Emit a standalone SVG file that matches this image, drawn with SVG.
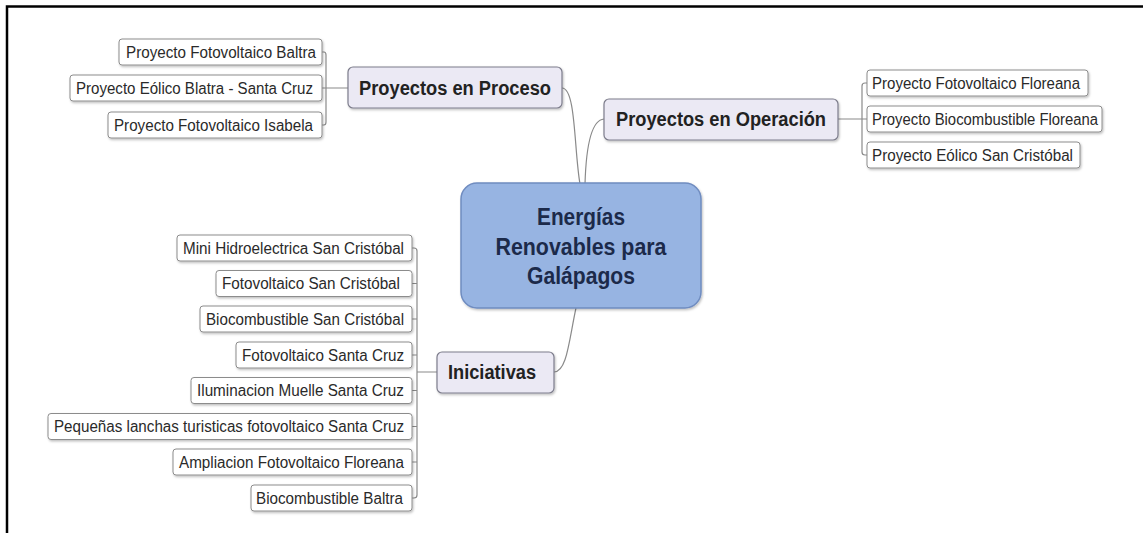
<svg xmlns="http://www.w3.org/2000/svg" width="1143" height="533" viewBox="0 0 1143 533">
<defs>
<filter id="sh" x="-10%" y="-30%" width="120%" height="160%">
<feDropShadow dx="1" dy="1.5" stdDeviation="1.2" flood-color="#000" flood-opacity="0.25"/>
</filter>
</defs>
<style>
.sub rect{fill:#fff;stroke:#8c8c8c;stroke-width:1;filter:url(#sh)}
.sub text{font-family:"Liberation Sans",Arial,sans-serif;font-size:16px;fill:#2a2a2a}
.main rect{fill:#ebe9f4;stroke:#7d7d8c;stroke-width:1.2;filter:url(#sh)}
.main text{font-family:"Liberation Sans",Arial,sans-serif;font-size:20px;font-weight:bold;fill:#222}
.central rect{fill:#97b4e2;stroke:#6f8cc0;stroke-width:1.5;filter:url(#sh)}
.central text{font-family:"Liberation Sans",Arial,sans-serif;font-size:23px;font-weight:bold;fill:#1c2a4a;text-anchor:middle}
.conn path{fill:none;stroke:#8a8a8a;stroke-width:1.2}
</style>
<rect width="1143" height="533" fill="#fff"/>
<path d="M7,533 V6.5 H1143" fill="none" stroke="#000" stroke-width="2.5"/>

<g class="conn" id="connectors">
<path d="M562,88 C576,88 574,150 580,184"/>
<path d="M604,119 C590,120 586,150 585,184"/>
<path d="M554,372 C567,372 569,340 576,308"/>
<path d="M348,88 H326 M322,52 H324 Q326,52 326,55 V122 Q326,125 324,125 H322 M322,88 H326"/>
<path d="M838,119 H862 M867,83 H865 Q862,83 862,86 V152 Q862,155 865,155 H867 M862,119 H867"/>
<path d="M437,372 H417 M412,248 H414 Q417,248 417,251 V495 Q417,498 414,498 H412 M412,283.5 H417 M412,319 H417 M412,355 H417 M412,390.5 H417 M412,426.5 H417 M412,462 H417"/>
</g>

<g id="central" class="central">
<rect x="461" y="183" width="240" height="125" rx="16"/>
<text x="581" y="225" textLength="88" lengthAdjust="spacingAndGlyphs">Energías</text>
<text x="581" y="255" textLength="171" lengthAdjust="spacingAndGlyphs">Renovables para</text>
<text x="581" y="284" textLength="108" lengthAdjust="spacingAndGlyphs">Galápagos</text>
</g>

<g id="proyectos-proceso" class="main">
<rect x="348" y="67" width="214" height="41" rx="5"/>
<text x="359" y="95" textLength="192" lengthAdjust="spacingAndGlyphs">Proyectos en Proceso</text>
</g>
<g id="proyectos-operacion" class="main">
<rect x="604" y="99" width="234" height="41" rx="5"/>
<text x="616" y="126" textLength="210" lengthAdjust="spacingAndGlyphs">Proyectos en Operación</text>
</g>
<g id="iniciativas" class="main">
<rect x="437" y="352" width="117" height="41" rx="5"/>
<text x="448" y="379" textLength="88" lengthAdjust="spacingAndGlyphs">Iniciativas</text>
</g>

<g id="pp-baltra" class="sub">
<rect x="119" y="39" width="203" height="26" rx="3"/>
<text x="126" y="57.5" textLength="190" lengthAdjust="spacingAndGlyphs">Proyecto Fotovoltaico Baltra</text>
</g>
<g id="pp-eolico" class="sub">
<rect x="70" y="75" width="252" height="26" rx="3"/>
<text x="76" y="93.5" textLength="237" lengthAdjust="spacingAndGlyphs">Proyecto Eólico Blatra - Santa Cruz</text>
</g>
<g id="pp-isabela" class="sub">
<rect x="108" y="112" width="214" height="26" rx="3"/>
<text x="114" y="130.5" textLength="199" lengthAdjust="spacingAndGlyphs">Proyecto Fotovoltaico Isabela</text>
</g>

<g id="po-fv-floreana" class="sub">
<rect x="867" y="70" width="221" height="26" rx="3"/>
<text x="872" y="88.5" textLength="208" lengthAdjust="spacingAndGlyphs">Proyecto Fotovoltaico Floreana</text>
</g>
<g id="po-bio-floreana" class="sub">
<rect x="867" y="106" width="235" height="26" rx="3"/>
<text x="872" y="124.5" textLength="226" lengthAdjust="spacingAndGlyphs">Proyecto Biocombustible Floreana</text>
</g>
<g id="po-eolico-sc" class="sub">
<rect x="867" y="142" width="213" height="26" rx="3"/>
<text x="872" y="160.5" textLength="201" lengthAdjust="spacingAndGlyphs">Proyecto Eólico San Cristóbal</text>
</g>

<g id="in-1" class="sub">
<rect x="177" y="235" width="235" height="26" rx="3"/>
<text x="183" y="253.5" textLength="221" lengthAdjust="spacingAndGlyphs">Mini Hidroelectrica San Cristóbal</text>
</g>
<g id="in-2" class="sub">
<rect x="216" y="270.5" width="196" height="26" rx="3"/>
<text x="222" y="289" textLength="178" lengthAdjust="spacingAndGlyphs">Fotovoltaico San Cristóbal</text>
</g>
<g id="in-3" class="sub">
<rect x="200" y="306" width="212" height="26" rx="3"/>
<text x="206" y="324.5" textLength="198" lengthAdjust="spacingAndGlyphs">Biocombustible San Cristóbal</text>
</g>
<g id="in-4" class="sub">
<rect x="236" y="342" width="176" height="26" rx="3"/>
<text x="242" y="360.5" textLength="162" lengthAdjust="spacingAndGlyphs">Fotovoltaico Santa Cruz</text>
</g>
<g id="in-5" class="sub">
<rect x="191" y="377.5" width="221" height="26" rx="3"/>
<text x="197" y="396" textLength="207" lengthAdjust="spacingAndGlyphs">Iluminacion Muelle Santa Cruz</text>
</g>
<g id="in-6" class="sub">
<rect x="48" y="413.5" width="364" height="26" rx="3"/>
<text x="54" y="432" textLength="350" lengthAdjust="spacingAndGlyphs">Pequeñas lanchas turisticas fotovoltaico Santa Cruz</text>
</g>
<g id="in-7" class="sub">
<rect x="173" y="449" width="239" height="26" rx="3"/>
<text x="179" y="467.5" textLength="225" lengthAdjust="spacingAndGlyphs">Ampliacion Fotovoltaico Floreana</text>
</g>
<g id="in-8" class="sub">
<rect x="251" y="485" width="161" height="26" rx="3"/>
<text x="256" y="503.5" textLength="147" lengthAdjust="spacingAndGlyphs">Biocombustible Baltra</text>
</g>
</svg>
